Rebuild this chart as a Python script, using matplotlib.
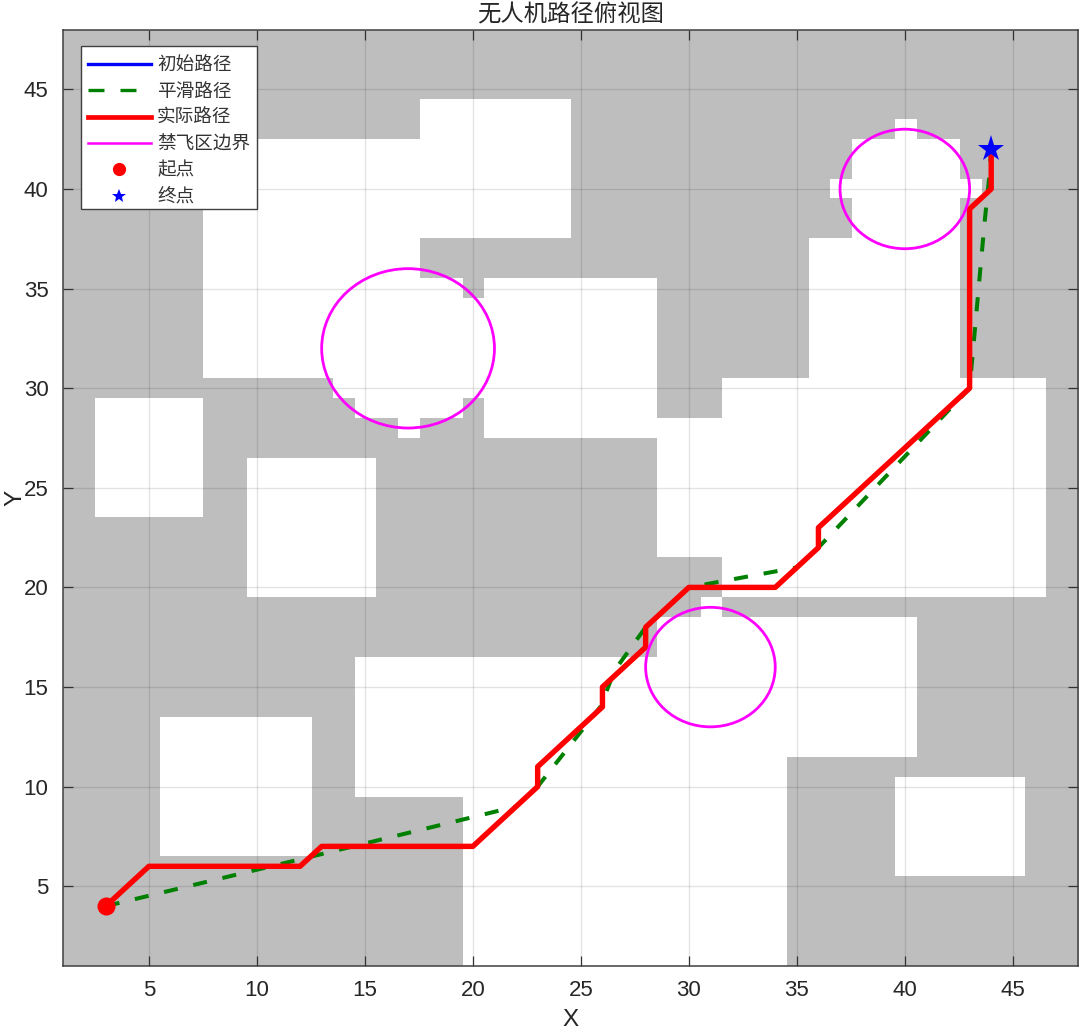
import numpy as np
import matplotlib
matplotlib.use("Agg")
import matplotlib.pyplot as plt
from matplotlib.colors import ListedColormap
from matplotlib.lines import Line2D
from matplotlib.patches import Circle, Rectangle

CJK = ['Noto Sans CJK SC', 'DejaVu Sans']
LATIN = ['Liberation Sans', 'DejaVu Sans']
plt.rcParams['font.family'] = LATIN

# free-space rectangles: x0, x1, y0, y1
free_rects = [
    (7.5, 17.5, 30.5, 42.5), (17.5, 24.5, 37.5, 44.5), (20.5, 28.5, 27.5, 35.5),
    (2.5, 7.5, 23.5, 29.5), (9.5, 15.5, 19.5, 26.5), (5.5, 12.5, 6.5, 13.5),
    (14.5, 28.5, 9.5, 16.5), (19.5, 34.5, 0.5, 11.5), (28.5, 40.5, 11.5, 18.5),
    (39.5, 45.5, 5.5, 10.5), (31.5, 46.5, 19.5, 30.5), (28.5, 31.5, 21.5, 28.5),
    (35.5, 42.5, 30.5, 37.5),
]
zone_x = [17, 40, 31]
zone_y = [32, 40, 16]
zone_r = [4, 3, 3]

path_x = [3, 5, 12, 13, 20, 23, 23, 26, 26, 28, 28, 30, 34, 36, 36, 43, 43, 44, 44]
path_y = [4, 6, 6, 7, 7, 10, 11, 14, 15, 17, 18, 20, 20, 22, 23, 30, 39, 40, 42]
smooth_x = [3, 12, 22, 23, 25.9, 26.57, 28, 30, 35, 36, 43, 43.44, 43.7, 43.9, 44]
smooth_y = [4, 6.35, 9, 10, 14, 15.84, 18, 20, 21, 22, 30, 35.3, 38.4, 40.5, 42]
start = (3, 4)
goal = (44, 42)

xticks = [5, 10, 15, 20, 25, 30, 35, 40, 45]
yticks = [5, 10, 15, 20, 25, 30, 35, 40, 45]
legend_labels = ['初始路径', '平滑路径', '实际路径', '禁飞区边界', '起点', '终点']

cells = np.arange(1, 49)
gx, gy = np.meshgrid(cells, cells)
free = np.zeros(gx.shape, dtype=int)
for x0, x1, y0, y1 in free_rects:
    free[(gx > x0) & (gx < x1) & (gy > y0) & (gy < y1)] = 1
for cx, cy, r in zip(zone_x, zone_y, zone_r):
    free[(gx - cx) ** 2 + (gy - cy) ** 2 <= r ** 2] = 1

W, H = 1080, 1029
fig = plt.figure(figsize=(W / 100, H / 100), dpi=100)
L, R, T, B = 62.5, 1077.6, 29.6, 965.9
ax = fig.add_axes([L / W, 1 - B / H, (R - L) / W, (B - T) / H])

ax.imshow(free, origin='lower', extent=(0.5, 48.5, 0.5, 48.5), aspect='auto',
          cmap=ListedColormap(['#bebebe', '#ffffff']), vmin=0, vmax=1,
          interpolation='nearest', zorder=0)

ax.plot(path_x, path_y, color='#0000ff', lw=2.4, zorder=3)
ax.plot(smooth_x, smooth_y, color='#008000', lw=2.9, zorder=3.1,
        linestyle=(0, (3.5, 3.95)), dash_capstyle='butt')
ax.plot(path_x, path_y, color='#ff0000', lw=3.9, zorder=3.2, solid_joinstyle='round')
for cx, cy, r in zip(zone_x, zone_y, zone_r):
    ax.add_patch(Circle((cx, cy), r, fill=False, edgecolor='#ff00ff', lw=2.0, zorder=3.3))
ax.plot(*start, 'o', color='#ff0000', ms=13, mew=0, zorder=3.4)
ax.plot(*goal, '*', color='#0000ff', ms=20, mew=0, zorder=3.4)

ax.set_xlim(1, 48)
ax.set_ylim(1, 48)
ax.set_xticks(xticks)
ax.set_yticks(yticks)
ax.set_axisbelow(False)
ax.grid(True, color='k', alpha=0.11, lw=1.0)
ax.tick_params(direction='in', length=7.2, width=0.9, top=True, right=True,
               labelsize=16, color='#333333', labelcolor='#262626', pad=10)
for s in ax.spines.values():
    s.set_linewidth(1.1)
    s.set_color('#404040')
    s.set_zorder(5)

ax.set_xlabel('X', fontsize=17.5, color='#262626', labelpad=6)
ax.set_ylabel('Y', fontsize=17.5, color='#262626', labelpad=-2)
ax.set_title('无人机路径俯视图', family=CJK, fontsize=16.8, color='#262626', pad=6)

# legend box drawn in axes fractions, with the entries placed inside it
box_l, box_r, box_t, box_b = 81, 257, 46, 209
ax.add_patch(Rectangle(((box_l - L) / (R - L), 1 - (box_b - T) / (B - T)),
                       (box_r - box_l) / (R - L), (box_b - box_t) / (B - T),
                       transform=ax.transAxes, facecolor='white',
                       edgecolor='#404040', lw=1.0, zorder=5.5))
handles = [
    Line2D([], [], color='#0000ff', lw=2.4),
    Line2D([], [], color='#008000', lw=2.4, linestyle=(0, (4.8, 4.8)), dash_capstyle='butt'),
    Line2D([], [], color='#ff0000', lw=3.4),
    Line2D([], [], color='#ff00ff', lw=1.8),
    Line2D([], [], color='#ff0000', marker='o', ms=9.5, mew=0, linestyle='none'),
    Line2D([], [], color='#0000ff', marker='*', ms=10.5, mew=0, linestyle='none'),
]
leg = ax.legend(handles, legend_labels, loc='upper left',
                bbox_to_anchor=((box_l - L) / (R - L), 1 - (box_t + 4 - T) / (B - T)),
                borderaxespad=0, prop={'family': CJK, 'size': 13.4},
                handlelength=3.4, handletextpad=0.33, borderpad=0.36,
                labelspacing=0.445, frameon=False, labelcolor='#333333')
leg.set_zorder(6)

fig.savefig('out.png', dpi=100)
